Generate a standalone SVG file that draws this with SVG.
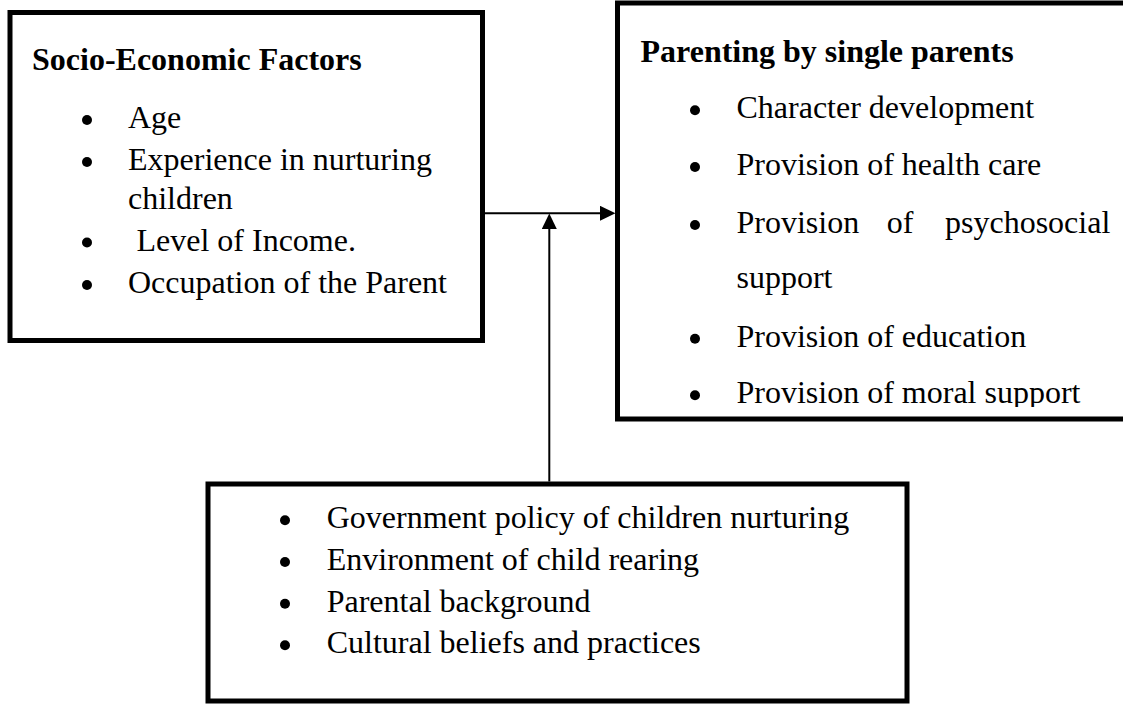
<svg xmlns="http://www.w3.org/2000/svg" width="1123" height="704" viewBox="0 0 1123 704">
  <defs>
    <style>
      .box { fill: #ffffff; stroke: #000000; stroke-width: 5; }
      .txt { font-family: "Liberation Serif", "Times New Roman", serif; font-size: 32px; fill: #000000; }
      .head { font-weight: bold; }
      .dot { fill: #000000; }
      .link { stroke: #000000; stroke-width: 2; fill: none; }
    </style>
    <marker id="arrow" viewBox="0 0 15.5 15" refX="1.5" refY="7.5" markerWidth="15.5" markerHeight="15" markerUnits="userSpaceOnUse" orient="auto">
      <path d="M0,0 L15.5,7.5 L0,15 z" fill="#000000"/>
    </marker>
    <clipPath id="rightClip">
      <rect x="620" y="6" width="510" height="401"/>
    </clipPath>
  </defs>

  <rect width="1123" height="704" fill="#ffffff"/>

  <!-- Socio-economic factors -->
  <g id="socio-economic">
    <rect class="box" x="10" y="12.5" width="472.5" height="328"/>
    <text class="txt head" x="32" y="70">Socio-Economic Factors</text>
    <circle class="dot" cx="87" cy="120" r="5"/>
    <text class="txt" x="128" y="128">Age</text>
    <circle class="dot" cx="87" cy="162" r="5"/>
    <text class="txt" x="128" y="170">Experience in nurturing</text>
    <text class="txt" x="128" y="208.5">children</text>
    <circle class="dot" cx="87" cy="242.5" r="5"/>
    <text class="txt" x="136.5" y="250.5">Level of Income.</text>
    <circle class="dot" cx="87" cy="285" r="5"/>
    <text class="txt" x="128" y="293">Occupation of the Parent</text>
  </g>

  <!-- Parenting by single parents -->
  <g id="parenting">
    <rect class="box" x="617.5" y="3" width="520" height="416" stroke-width="5.5"/>
    <g clip-path="url(#rightClip)">
      <text class="txt head" x="640.5" y="61.7">Parenting by single parents</text>
      <circle class="dot" cx="695" cy="110.3" r="5"/>
      <text class="txt" x="736.5" y="118.3">Character development</text>
      <circle class="dot" cx="695" cy="167" r="5"/>
      <text class="txt" x="736.5" y="175">Provision of health care</text>
      <circle class="dot" cx="695" cy="225" r="5"/>
      <text class="txt" x="736.5" y="233">Provision</text>
      <text class="txt" x="886.7" y="233">of</text>
      <text class="txt" x="945" y="233">psychosocial</text>
      <text class="txt" x="736.5" y="288">support</text>
      <circle class="dot" cx="695" cy="338.7" r="5"/>
      <text class="txt" x="736.5" y="346.7">Provision of education</text>
      <circle class="dot" cx="695" cy="395.3" r="5"/>
      <text class="txt" x="736.5" y="403.3">Provision of moral support</text>
    </g>
  </g>

  <!-- Moderating factors -->
  <g id="moderating">
    <rect class="box" x="208" y="484" width="699" height="217"/>
    <circle class="dot" cx="285" cy="520.3" r="5"/>
    <text class="txt" x="326.7" y="528.3">Government policy of children nurturing</text>
    <circle class="dot" cx="285" cy="562" r="5"/>
    <text class="txt" x="326.7" y="570">Environment of child rearing</text>
    <circle class="dot" cx="285" cy="603.7" r="5"/>
    <text class="txt" x="326.7" y="611.7">Parental background</text>
    <circle class="dot" cx="285" cy="645.3" r="5"/>
    <text class="txt" x="326.7" y="653.3">Cultural beliefs and practices</text>
  </g>

  <!-- Connectors -->
  <g id="connectors">
    <line class="link" x1="482.5" y1="213.3" x2="601.5" y2="213.3" marker-end="url(#arrow)"/>
    <line class="link" x1="549.3" y1="481.5" x2="549.3" y2="227.5" marker-end="url(#arrow)"/>
  </g>
</svg>
